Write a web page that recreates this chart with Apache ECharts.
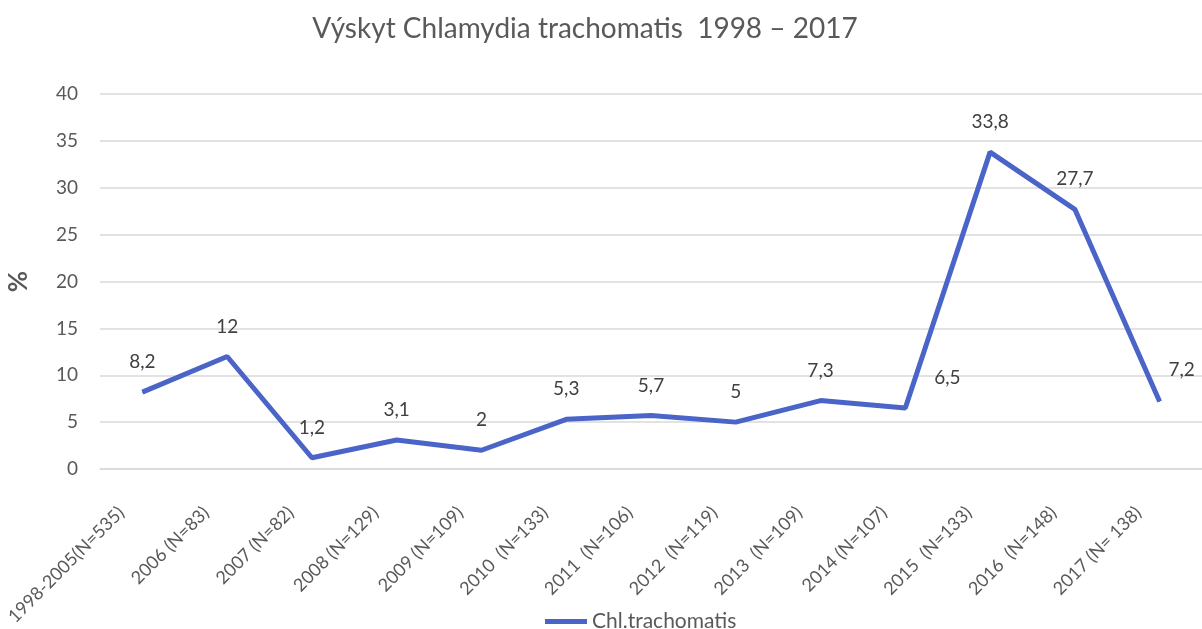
<!DOCTYPE html>
<html>
<head>
<meta charset="utf-8">
<script src="https://cdn.jsdelivr.net/npm/echarts@6/dist/echarts.min.js"></script>
<style>
  html, body { margin: 0; padding: 0; background: #fff; }
  #chart { width: 1202px; height: 629px; }
</style>
</head>
<body>
<div id="chart"></div>
<script>
const categories = ['1998-2005(N=535)', '2006 (N=83)', '2007 (N=82)', '2008 (N=129)', '2009 (N=109)',
  '2010  (N=133)', '2011  (N=106)', '2012  (N=119)', '2013  (N=109)', '2014 (N=107)',
  '2015  (N=133)', '2016  (N=148)', '2017 (N= 138)']
const values = [8.2, 12, 1.2, 3.1, 2, 5.3, 5.7, 5, 7.3, 6.5, 33.8, 27.7, 7.2]
const yTicks = [0, 5, 10, 15, 20, 25, 30, 35, 40]

// a couple of labels sit beside the point rather than above it
const labelShift = { 9: [42, 0], 12: [22, -2] }

const font = 'Lato, "Open Sans", sans-serif'
const chart = echarts.init(document.getElementById('chart'))
chart.setOption({
  animation: false,
  title: {
    text: 'Výskyt Chlamydia trachomatis  1998 – 2017',
    left: 580,
    textAlign: 'center',
    top: 10,
    textStyle: { fontFamily: font, fontSize: 28, fontWeight: 'normal', color: '#595959' }
  },
  legend: {
    top: 606,
    left: 540,
    icon: 'rect',
    itemWidth: 42,
    itemHeight: 5,
    itemGap: 4,
    textStyle: { fontFamily: font, fontSize: 21, color: '#595959' },
    data: ['Chl.trachomatis']
  },
  grid: { left: 100, right: 0, top: 94, bottom: 160, outerBoundsMode: 'none' },
  xAxis: {
    type: 'category',
    data: categories,
    axisLine: { lineStyle: { color: '#d9d9d9', width: 1.5 } },
    axisTick: { show: false },
    axisLabel: {
      rotate: 45,
      interval: 0,
      // tall line box + bottom alignment nudges the slanted text left, margin brings it down
      margin: 62,
      verticalAlign: 'bottom',
      lineHeight: 60,
      fontFamily: font,
      fontSize: 18,
      color: '#595959'
    }
  },
  yAxis: {
    type: 'value',
    min: yTicks[0],
    max: yTicks[yTicks.length - 1],
    interval: 5,
    name: '%',
    nameLocation: 'middle',
    nameGap: 68,
    nameTextStyle: { fontFamily: font, fontSize: 26, fontWeight: 'bold', color: '#595959' },
    axisLine: { show: false },
    axisTick: { show: false },
    splitLine: { lineStyle: { color: '#d9d9d9', width: 1.5 } },
    axisLabel: { margin: 22, fontFamily: font, fontSize: 19, color: '#595959' }
  },
  series: [{
    name: 'Chl.trachomatis',
    type: 'line',
    data: values.map((v, i) => {
      const item = { value: v }
      if (labelShift[i]) item.label = { offset: labelShift[i] }
      return item
    }),
    symbol: 'circle',
    symbolSize: 1,
    lineStyle: { color: '#4a64c8', width: 5 },
    itemStyle: { color: '#4a64c8' },
    label: {
      show: true,
      position: 'top',
      distance: 20,
      fontFamily: font,
      fontSize: 19,
      color: '#404040',
      formatter: p => String(p.value).replace('.', ',')
    }
  }]
})
</script>
</body>
</html>
